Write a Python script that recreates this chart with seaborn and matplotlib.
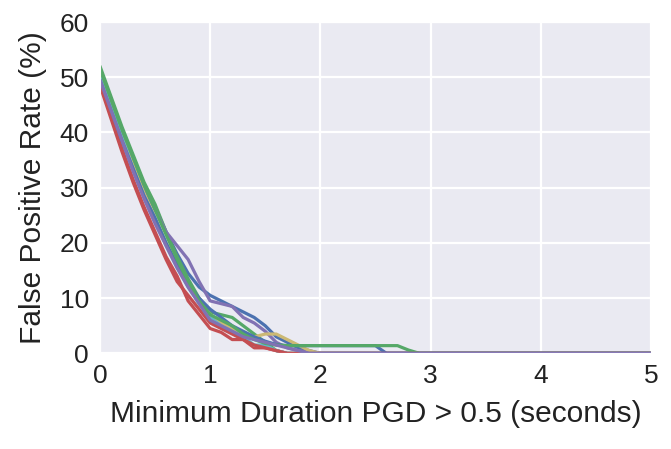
import pandas as pd
import numpy as np
import seaborn as sns
import matplotlib.pyplot as plt

# minimum duration thresholds (seconds)
durations = [0.0, 0.1, 0.2, 0.3, 0.4, 0.5, 0.6, 0.7, 0.8, 0.9,
             1.0, 1.1, 1.2, 1.3, 1.4, 1.5, 1.6, 1.7, 1.8, 1.9,
             2.0, 2.1, 2.2, 2.3, 2.4, 2.5, 2.6, 2.7, 2.8, 2.9,
             3.0, 5.0]

# false positive rate (%) for each run
fpr_1 = [50.5, 45.5, 40.5, 35.5, 30.5, 26.5, 22, 18, 14.5, 12, 10.5, 9.5, 8.5, 7.5, 6.5, 5, 3, 2, 1, 0.5,
         0, 0, 0, 0, 0, 0, 0, 0, 0, 0, 0, 0]
fpr_2 = [52, 46.5, 41, 36, 31, 27, 22, 17.5, 13.5, 10, 7.5, 7, 6.5, 5, 3.5, 2, 0.5, 0, 0, 0,
         0, 0, 0, 0, 0, 0, 0, 0, 0, 0, 0, 0]
fpr_3 = [49, 43, 37, 31.5, 26.5, 22, 17.5, 14, 9.5, 7, 4.5, 3.8, 2.5, 2.5, 1, 1, 0.5, 0, 0, 0,
         0, 0, 0, 0, 0, 0, 0, 0, 0, 0, 0, 0]
fpr_4 = [50, 45, 40, 35, 30, 26, 22, 19.5, 17, 13, 9.5, 9, 8.5, 6.5, 5.5, 4, 2, 1, 0.5, 0.2,
         0, 0, 0, 0, 0, 0, 0, 0, 0, 0, 0, 0]
fpr_5 = [50, 44.5, 39, 34, 29, 24.5, 20, 16, 12.5, 9.5, 7, 5.5, 4.5, 3.5, 3, 3.5, 3.5, 2.5, 1.5, 0.5,
         0, 0, 0, 0, 0, 0, 0, 0, 0, 0, 0, 0]
fpr_6 = [50, 44.5, 39, 33.5, 28.5, 24, 19.5, 15.5, 12, 9, 6.5, 5, 4, 3, 1.5, 1.5, 0.5, 0, 0, 0,
         0, 0, 0, 0, 0, 0, 0, 0, 0, 0, 0, 0]
fpr_7 = [49.5, 44, 38.5, 33.5, 28.5, 24.5, 20, 16, 12.5, 10, 8, 6.5, 5, 4, 3, 2.2, 1.6, 1.4, 1.4, 1.4,
         1.4, 1.4, 1.4, 1.4, 1.4, 1.4, 0, 0, 0, 0, 0, 0]
fpr_8 = [51.5, 46, 40.5, 35.5, 30.5, 26, 21.5, 17, 13, 9.5, 7, 6, 5, 3.5, 2.5, 1.8, 1.5, 1.4, 1.4, 1.4,
         1.4, 1.4, 1.4, 1.4, 1.4, 1.4, 1.4, 1.4, 0.6, 0, 0, 0]
fpr_9 = [48.5, 42.5, 36.5, 31, 26, 21.5, 17, 13, 10.5, 8, 5.5, 4.5, 3.5, 2.5, 1.5, 1, 0.5, 0, 0, 0,
         0, 0, 0, 0, 0, 0, 0, 0, 0, 0, 0, 0]
fpr_10 = [49.5, 44, 38.5, 33, 28, 23.5, 19.5, 15.5, 12, 9, 6, 5, 4, 3, 2.5, 2, 1.5, 1, 0.5, 0,
          0, 0, 0, 0, 0, 0, 0, 0, 0, 0, 0, 0]

runs = [fpr_1, fpr_2, fpr_3, fpr_4, fpr_5, fpr_6, fpr_7, fpr_8, fpr_9, fpr_10]

rows = []
for i, run in enumerate(runs):
    for d, v in zip(durations, run):
        rows.append({'run': i, 'duration': d, 'fpr': v})
df = pd.DataFrame(rows)

sns.set_style('darkgrid', {'grid.linewidth': 1.6})
plt.rcParams['font.family'] = ['Liberation Sans', 'DejaVu Sans']
plt.rcParams['grid.linewidth'] = 1.6

fig = plt.figure(figsize=(6.71, 4.49), dpi=100)
ax = fig.add_axes([0.149, 0.213, 0.821, 0.738])

colors = sns.color_palette('deep6') + sns.color_palette('deep6')[:4]
sns.lineplot(data=df, x='duration', y='fpr', hue='run', palette=colors,
             linewidth=2.3, legend=False, ax=ax)

ax.set_xlim(0, 5)
ax.set_ylim(0, 60)
ax.set_xticks([0, 1, 2, 3, 4, 5])
ax.set_yticks([0, 10, 20, 30, 40, 50, 60])
ax.tick_params(labelsize=19, length=0, pad=8, labelcolor='#222222')
ax.set_xlabel('Minimum Duration PGD > 0.5 (seconds)', fontsize=21.5, color='#222222', labelpad=8)
ax.set_ylabel('False Positive Rate (%)', fontsize=21.5, color='#222222', labelpad=9)

fig.savefig('out.png', dpi=100)
